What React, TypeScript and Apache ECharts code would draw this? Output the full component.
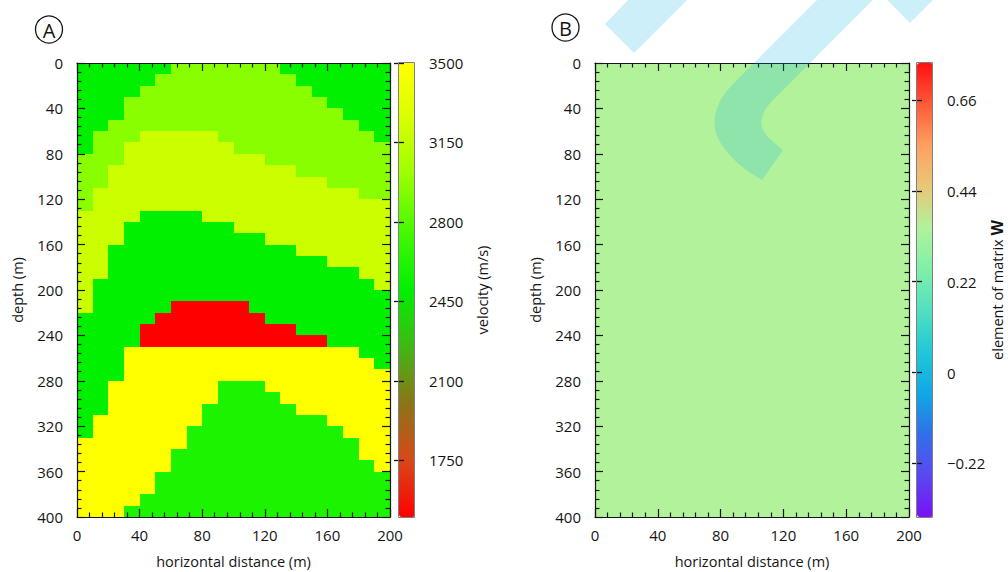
import React, { useEffect, useRef } from 'react';
import * as echarts from 'echarts';

// ---------- data ----------
// left edge (m) of each 10 m wide column
const columnX = [0, 10, 20, 30, 40, 50, 60, 70, 80, 90, 100, 110, 120, 130, 140, 150, 160, 170, 180, 190];
const cellWidth = 10;
const maxDepth = 400;
// velocity (m/s) of each layer, top to bottom
const layerVelocity = [2500, 2950, 3200, 2500, 1500, 3500, 2600];
// depth (m) at which layers 2..7 begin in each column
const layer2Top = [80, 60, 50, 30, 20, 10, 0, 0, 0, 0, 0, 0, 0, 10, 20, 30, 40, 50, 60, 70];
const layer3Top = [130, 110, 90, 70, 60, 60, 60, 60, 60, 70, 80, 80, 90, 90, 100, 100, 110, 110, 120, 120];
const layer4Top = [220, 190, 160, 140, 130, 130, 130, 130, 140, 140, 150, 150, 160, 160, 170, 170, 180, 180, 190, 200];
const layer5Top = [330, 310, 280, 250, 230, 220, 210, 210, 210, 210, 210, 220, 230, 230, 240, 240, 250, 250, 260, 270];
const layer6Top = [330, 310, 280, 250, 250, 250, 250, 250, 250, 250, 250, 250, 250, 250, 250, 250, 250, 250, 260, 270];
const layer7Top = [400, 400, 400, 390, 380, 360, 340, 320, 300, 280, 280, 280, 290, 300, 310, 310, 320, 330, 350, 360];
// element of matrix W (uniform over panel B)
const wElement = 0.35;

const xTicks = { min: 0, max: 200, interval: 40 };
const yTicks = { min: 0, max: 400, interval: 40 };
const velocityRange = [1500, 3500];
const velocityTicks = [1750, 2100, 2450, 2800, 3150, 3500];
const wRange = [-0.35, 0.75];
const wTicks = [-0.22, 0, 0.22, 0.44, 0.66];

// ---------- styles ----------
const velocityColors = ['#ff0000', '#d84818', '#8c7418', '#40b814', '#00f000', '#44f800', '#99ff00', '#d8ff00', '#ffff00'];
const wColors = ['#7a10f8', '#5a48f0', '#3070ea', '#10a8e4', '#20c8d8', '#50e0c0', '#80f0a8', '#b1f29b', '#e8c878', '#ffa060', '#ff5a38', '#ff1010'];
const FONT = "'Open Sans', sans-serif";
const INK = '#151515';

const MARK_D =
  'M 817 0 L 733 84 C 715 102 708 125 722 145 C 732 160 745 170 762 180 L 783 150 C 770 140 758 130 762 118 C 764 110 768 105 773 100 L 873 0 Z';
try {
  echarts.graphic.registerShape('wmark', echarts.graphic.extendPath(MARK_D, {}) as any);
} catch (e) {}

function buildVelocityBlocks() {
  const out: number[][] = [];
  columnX.forEach((x, c) => {
    const tops = [0, layer2Top[c], layer3Top[c], layer4Top[c], layer5Top[c], layer6Top[c], layer7Top[c], maxDepth];
    for (let k = 0; k < layerVelocity.length; k++) {
      if (tops[k + 1] > tops[k]) out.push([x, x + cellWidth, tops[k], tops[k + 1], layerVelocity[k]]);
    }
  });
  return out;
}
function buildWBlocks() {
  return columnX.map((x) => [x, x + cellWidth, 0, maxDepth, wElement]);
}

const renderBlock = (_p: any, api: any) => {
  const a = api.coord([api.value(0), api.value(2)]);
  const b = api.coord([api.value(1), api.value(3)]);
  const color = api.visual('color');
  const x0 = Math.round(Math.min(a[0], b[0]));
  const x1 = Math.round(Math.max(a[0], b[0]));
  const y0 = Math.round(Math.min(a[1], b[1]));
  const y1 = Math.round(Math.max(a[1], b[1]));
  return {
    type: 'rect',
    shape: { x: x0, y: y0, width: x1 - x0, height: y1 - y0 },
    style: { fill: color },
  };
};

const labelStyle = { color: INK, fontSize: 15, fontFamily: FONT };
const titleStyle = { color: INK, fontSize: 14.5, fontFamily: FONT };

function plotAxes(grid: number) {
  const common = {
    gridIndex: grid,
    type: 'value',
    z: 10,
    axisLine: { show: true, onZero: false, lineStyle: { color: INK, width: 1.2 } },
    axisTick: { show: true, inside: true, length: 8, lineStyle: { color: INK, width: 1.2 } },
    minorTick: { show: true, splitNumber: 5, length: 4.5, lineStyle: { color: INK, width: 1.2 } },
    splitLine: { show: false },
    minorSplitLine: { show: false },
  };
  const x = [
    {
      ...common, ...xTicks, position: 'bottom',
      axisLabel: { ...labelStyle, margin: 10, showMinLabel: true, showMaxLabel: true },
      name: 'horizontal distance (m)', nameLocation: 'middle', nameGap: 37,
      nameTextStyle: { ...titleStyle },
    },
    { ...common, ...xTicks, position: 'top', axisLabel: { show: false } },
  ];
  const y = [
    {
      ...common, ...yTicks, inverse: true, position: 'left',
      axisLabel: { ...labelStyle, margin: 14, showMinLabel: true, showMaxLabel: true },
      name: 'depth (m)', nameLocation: 'middle', nameGap: 52, nameRotate: 90,
      nameTextStyle: { ...titleStyle },
    },
    { ...common, ...yTicks, inverse: true, position: 'right', axisLabel: { show: false } },
  ];
  return { x, y };
}

function barAxes(grid: number, range: number[], ticks: number[], name: string, gap: number, fmt: (v: number) => string, rich?: any) {
  const tick = { show: true, inside: true, length: 5, customValues: ticks, lineStyle: { color: INK, width: 1.3 } };
  return [
    {
      gridIndex: grid, type: 'value', position: 'right', min: range[0], max: range[1], z: 10,
      axisLine: { show: false }, splitLine: { show: false },
      axisTick: tick,
      axisLabel: { ...labelStyle, margin: 14, customValues: ticks, formatter: fmt },
      name, nameLocation: 'middle', nameGap: gap, nameRotate: 90,
      nameTextStyle: { ...titleStyle, rich },
    },
    {
      gridIndex: grid, type: 'value', position: 'left', min: range[0], max: range[1], z: 10,
      axisLine: { show: false }, splitLine: { show: false },
      axisTick: tick, axisLabel: { show: false },
    },
  ];
}

export default function App() {
  const ref = useRef<HTMLDivElement>(null);
  useEffect(() => {
    document.body.style.margin = '0';
    if (!ref.current) return;
    const chart = echarts.init(ref.current, null, { renderer: 'svg' });
    const A = plotAxes(0);
    const B = plotAxes(1);
    const fmtW = (v: number) => (v < 0 ? '\u2212' + Math.abs(v) : String(v));
    const option: any = {
      animation: false,
      backgroundColor: '#ffffff',
      grid: [
        { left: 77, top: 63, width: 313, height: 454, outerBoundsMode: 'none' },
        { left: 595, top: 63, width: 314, height: 454, outerBoundsMode: 'none' },
        { left: 399, top: 63, width: 16, height: 454, outerBoundsMode: 'none' },
        { left: 917, top: 63, width: 16, height: 454, outerBoundsMode: 'none' },
      ],
      xAxis: [
        ...A.x,
        ...B.x,
        { gridIndex: 2, type: 'value', show: false },
        { gridIndex: 3, type: 'value', show: false },
      ],
      yAxis: [
        ...A.y,
        ...B.y,
        ...barAxes(2, velocityRange, velocityTicks, 'velocity (m/s)', 60, (v) => String(v)),
        ...barAxes(3, wRange, wTicks, 'element of matrix {b|W}', 54, fmtW, {
          b: { fontWeight: 'bold', fontSize: 16, fontFamily: FONT, color: INK },
        }),
      ],
      visualMap: [
        {
          type: 'continuous', seriesIndex: 0, dimension: 4, min: velocityRange[0], max: velocityRange[1],
          inRange: { color: velocityColors }, left: 399, top: 63, itemWidth: 16, itemHeight: 454,
          calculable: false, padding: 0, orient: 'vertical', hoverLink: false,
        },
        {
          type: 'continuous', seriesIndex: 1, dimension: 4, min: wRange[0], max: wRange[1],
          inRange: { color: wColors }, left: 917, top: 63, itemWidth: 16, itemHeight: 454,
          calculable: false, padding: 0, orient: 'vertical', hoverLink: false,
        },
      ],
      series: [
        {
          type: 'custom', xAxisIndex: 0, yAxisIndex: 0, renderItem: renderBlock,
          encode: { x: [0, 1], y: [2, 3] }, data: buildVelocityBlocks(), clip: true, silent: true,
        },
        {
          type: 'custom', xAxisIndex: 2, yAxisIndex: 2, renderItem: renderBlock,
          encode: { x: [0, 1], y: [2, 3] }, data: buildWBlocks(), clip: true, silent: true,
        },
      ],
      graphic: [
        { type: 'rect', z: 50, shape: { x: 398.5, y: 62.5, width: 16, height: 455 }, style: { fill: 'none', stroke: '#808080', lineWidth: 1 } },
        { type: 'rect', z: 50, shape: { x: 916.5, y: 62.5, width: 16, height: 455 }, style: { fill: 'none', stroke: '#808080', lineWidth: 1 } },
        { type: 'circle', z: 50, shape: { cx: 49, cy: 29.5, r: 13.5 }, style: { fill: 'none', stroke: INK, lineWidth: 1.3 } },
        { type: 'text', z: 51, x: 49, y: 30, style: { text: 'A', fontSize: 20, fontFamily: FONT, fill: INK, align: 'center', verticalAlign: 'middle' } },
        { type: 'circle', z: 50, shape: { cx: 565.5, cy: 27.5, r: 13.5 }, style: { fill: 'none', stroke: INK, lineWidth: 1.3 } },
        { type: 'text', z: 51, x: 565.5, y: 28, style: { text: 'B', fontSize: 20, fontFamily: FONT, fill: INK, align: 'center', verticalAlign: 'middle' } },
        { type: 'polygon', z: 100, shape: { points: [[628, 0], [687, 0], [634, 53], [605, 24]] }, style: { fill: 'rgba(5,175,230,0.2)' } },
        { type: 'polygon', z: 100, shape: { points: [[887, 0], [933, 0], [910, 23]] }, style: { fill: 'rgba(5,175,230,0.2)' } },
        { type: 'wmark', z: 100, x: 0, y: 0, style: { fill: 'rgba(5,175,230,0.2)' } },
      ],
    };
    chart.setOption(option);
    return () => chart.dispose();
  }, []);
  return <div ref={ref} style={{ width: 1008, height: 572 }} />;
}
